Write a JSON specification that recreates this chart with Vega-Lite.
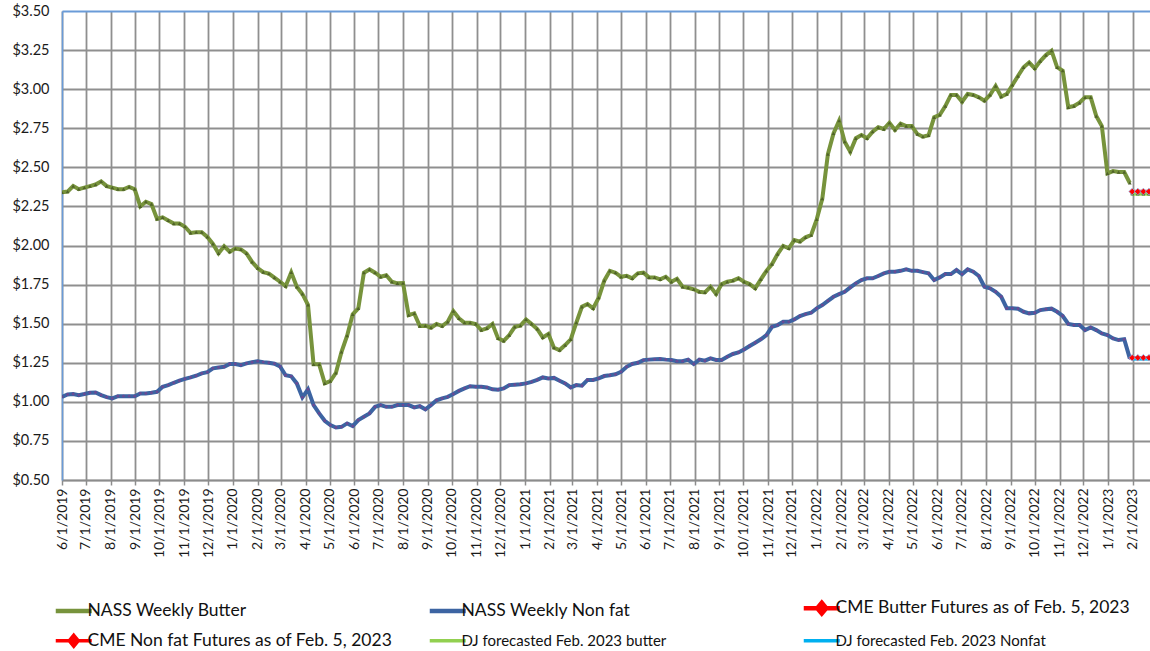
{
"$schema": "https://vega.github.io/schema/vega-lite/v6.json",
"width": 1088, "height": 469,
"autosize": {"type": "none"},
"padding": {"left": 62, "top": 11, "right": 0, "bottom": 171},
"background": "white",
"config": {"view": {"stroke": null}, "font": "Lato"},
"datasets": {
"nass": [
{"d":"2019-06-01","b":2.34,"n":1.032},{"d":"2019-06-08","b":2.345,"n":1.047},{"d":"2019-06-15","b":2.38,"n":1.05},{"d":"2019-06-22","b":2.36,"n":1.043},{"d":"2019-06-29","b":2.37,"n":1.05},
{"d":"2019-07-06","b":2.38,"n":1.058},{"d":"2019-07-13","b":2.39,"n":1.06},{"d":"2019-07-20","b":2.41,"n":1.043},{"d":"2019-07-27","b":2.38,"n":1.03},
{"d":"2019-08-03","b":2.37,"n":1.022},{"d":"2019-08-10","b":2.36,"n":1.036},{"d":"2019-08-17","b":2.36,"n":1.036},{"d":"2019-08-24","b":2.375,"n":1.036},{"d":"2019-08-31","b":2.36,"n":1.036},
{"d":"2019-09-07","b":2.25,"n":1.054},{"d":"2019-09-14","b":2.28,"n":1.054},{"d":"2019-09-21","b":2.265,"n":1.058},{"d":"2019-09-28","b":2.17,"n":1.064},
{"d":"2019-10-05","b":2.18,"n":1.096},{"d":"2019-10-12","b":2.16,"n":1.107},{"d":"2019-10-19","b":2.14,"n":1.122},{"d":"2019-10-26","b":2.14,"n":1.135},
{"d":"2019-11-02","b":2.12,"n":1.147},{"d":"2019-11-09","b":2.08,"n":1.156},{"d":"2019-11-16","b":2.085,"n":1.167},{"d":"2019-11-23","b":2.085,"n":1.182},{"d":"2019-11-30","b":2.055,"n":1.19},
{"d":"2019-12-07","b":2.01,"n":1.214},{"d":"2019-12-14","b":1.95,"n":1.22},{"d":"2019-12-21","b":1.995,"n":1.224},{"d":"2019-12-28","b":1.96,"n":1.242},
{"d":"2020-01-04","b":1.98,"n":1.242},{"d":"2020-01-11","b":1.975,"n":1.235},{"d":"2020-01-18","b":1.95,"n":1.246},{"d":"2020-01-25","b":1.895,"n":1.253},
{"d":"2020-02-01","b":1.855,"n":1.26},{"d":"2020-02-08","b":1.83,"n":1.254},{"d":"2020-02-15","b":1.82,"n":1.25},{"d":"2020-02-22","b":1.795,"n":1.244},{"d":"2020-02-29","b":1.768,"n":1.226},
{"d":"2020-03-07","b":1.74,"n":1.17},{"d":"2020-03-14","b":1.828,"n":1.163},{"d":"2020-03-21","b":1.736,"n":1.118},{"d":"2020-03-28","b":1.69,"n":1.029},
{"d":"2020-04-04","b":1.62,"n":1.08},{"d":"2020-04-11","b":1.24,"n":0.979},{"d":"2020-04-18","b":1.24,"n":0.926},{"d":"2020-04-25","b":1.118,"n":0.879},
{"d":"2020-05-02","b":1.133,"n":0.851},{"d":"2020-05-09","b":1.186,"n":0.836},{"d":"2020-05-16","b":1.32,"n":0.84},{"d":"2020-05-23","b":1.423,"n":0.862},{"d":"2020-05-30","b":1.56,"n":0.845},
{"d":"2020-06-06","b":1.598,"n":0.883},{"d":"2020-06-13","b":1.826,"n":0.904},{"d":"2020-06-20","b":1.847,"n":0.926},{"d":"2020-06-27","b":1.826,"n":0.968},
{"d":"2020-07-04","b":1.80,"n":0.979},{"d":"2020-07-11","b":1.81,"n":0.968},{"d":"2020-07-18","b":1.768,"n":0.968},{"d":"2020-07-25","b":1.758,"n":0.979},
{"d":"2020-08-01","b":1.76,"n":0.979},{"d":"2020-08-08","b":1.555,"n":0.979},{"d":"2020-08-15","b":1.566,"n":0.964},{"d":"2020-08-22","b":1.485,"n":0.972},{"d":"2020-08-29","b":1.487,"n":0.952},
{"d":"2020-09-05","b":1.474,"n":0.979},{"d":"2020-09-12","b":1.498,"n":1.01},{"d":"2020-09-19","b":1.485,"n":1.022},{"d":"2020-09-26","b":1.512,"n":1.032},
{"d":"2020-10-03","b":1.58,"n":1.05},{"d":"2020-10-10","b":1.534,"n":1.07},{"d":"2020-10-17","b":1.506,"n":1.086},{"d":"2020-10-24","b":1.506,"n":1.10},{"d":"2020-10-31","b":1.498,"n":1.096},
{"d":"2020-11-07","b":1.459,"n":1.096},{"d":"2020-11-14","b":1.47,"n":1.092},{"d":"2020-11-21","b":1.498,"n":1.08},{"d":"2020-11-28","b":1.406,"n":1.078},
{"d":"2020-12-05","b":1.39,"n":1.086},{"d":"2020-12-12","b":1.427,"n":1.107},{"d":"2020-12-19","b":1.48,"n":1.11},{"d":"2020-12-26","b":1.487,"n":1.113},
{"d":"2021-01-02","b":1.527,"n":1.118},{"d":"2021-01-09","b":1.498,"n":1.128},{"d":"2021-01-16","b":1.466,"n":1.14},{"d":"2021-01-23","b":1.412,"n":1.156},{"d":"2021-01-30","b":1.434,"n":1.15},
{"d":"2021-02-06","b":1.346,"n":1.153},{"d":"2021-02-13","b":1.331,"n":1.135},{"d":"2021-02-20","b":1.363,"n":1.118},{"d":"2021-02-27","b":1.40,"n":1.092},
{"d":"2021-03-06","b":1.506,"n":1.107},{"d":"2021-03-13","b":1.608,"n":1.103},{"d":"2021-03-20","b":1.625,"n":1.14},{"d":"2021-03-27","b":1.598,"n":1.14},
{"d":"2021-04-03","b":1.666,"n":1.15},{"d":"2021-04-10","b":1.775,"n":1.165},{"d":"2021-04-17","b":1.838,"n":1.17},{"d":"2021-04-24","b":1.826,"n":1.176},
{"d":"2021-05-01","b":1.80,"n":1.192},{"d":"2021-05-08","b":1.806,"n":1.224},{"d":"2021-05-15","b":1.79,"n":1.242},{"d":"2021-05-22","b":1.822,"n":1.25},{"d":"2021-05-29","b":1.826,"n":1.267},
{"d":"2021-06-05","b":1.796,"n":1.27},{"d":"2021-06-12","b":1.796,"n":1.272},{"d":"2021-06-19","b":1.783,"n":1.274},{"d":"2021-06-26","b":1.80,"n":1.27},
{"d":"2021-07-03","b":1.768,"n":1.267},{"d":"2021-07-10","b":1.787,"n":1.26},{"d":"2021-07-17","b":1.736,"n":1.26},{"d":"2021-07-24","b":1.73,"n":1.27},{"d":"2021-07-31","b":1.72,"n":1.242},
{"d":"2021-08-07","b":1.704,"n":1.27},{"d":"2021-08-14","b":1.70,"n":1.263},{"d":"2021-08-21","b":1.736,"n":1.278},{"d":"2021-08-28","b":1.69,"n":1.268},
{"d":"2021-09-04","b":1.753,"n":1.267},{"d":"2021-09-11","b":1.768,"n":1.288},{"d":"2021-09-18","b":1.775,"n":1.306},{"d":"2021-09-25","b":1.79,"n":1.316},
{"d":"2021-10-02","b":1.768,"n":1.335},{"d":"2021-10-09","b":1.753,"n":1.357},{"d":"2021-10-16","b":1.726,"n":1.378},{"d":"2021-10-23","b":1.783,"n":1.40},{"d":"2021-10-30","b":1.838,"n":1.427},
{"d":"2021-11-06","b":1.881,"n":1.48},{"d":"2021-11-13","b":1.945,"n":1.491},{"d":"2021-11-20","b":1.997,"n":1.512},{"d":"2021-11-27","b":1.982,"n":1.512},
{"d":"2021-12-04","b":2.035,"n":1.527},{"d":"2021-12-11","b":2.025,"n":1.549},{"d":"2021-12-18","b":2.052,"n":1.561},{"d":"2021-12-25","b":2.067,"n":1.57},
{"d":"2022-01-01","b":2.167,"n":1.598},{"d":"2022-01-08","b":2.30,"n":1.619},{"d":"2022-01-15","b":2.585,"n":1.646},{"d":"2022-01-22","b":2.717,"n":1.672},{"d":"2022-01-29","b":2.798,"n":1.689},
{"d":"2022-02-05","b":2.664,"n":1.704},{"d":"2022-02-12","b":2.60,"n":1.732},{"d":"2022-02-19","b":2.686,"n":1.758},{"d":"2022-02-26","b":2.707,"n":1.779},
{"d":"2022-03-05","b":2.686,"n":1.79},{"d":"2022-03-12","b":2.728,"n":1.79},{"d":"2022-03-19","b":2.756,"n":1.805},{"d":"2022-03-26","b":2.745,"n":1.822},
{"d":"2022-04-02","b":2.785,"n":1.832},{"d":"2022-04-09","b":2.739,"n":1.832},{"d":"2022-04-16","b":2.78,"n":1.838},{"d":"2022-04-23","b":2.764,"n":1.847},{"d":"2022-04-30","b":2.764,"n":1.838},
{"d":"2022-05-07","b":2.713,"n":1.838},{"d":"2022-05-14","b":2.696,"n":1.83},{"d":"2022-05-21","b":2.705,"n":1.822},{"d":"2022-05-28","b":2.82,"n":1.779},
{"d":"2022-06-04","b":2.835,"n":1.796},{"d":"2022-06-11","b":2.892,"n":1.817},{"d":"2022-06-18","b":2.963,"n":1.817},{"d":"2022-06-25","b":2.963,"n":1.843},
{"d":"2022-07-02","b":2.92,"n":1.817},{"d":"2022-07-09","b":2.969,"n":1.847},{"d":"2022-07-16","b":2.963,"n":1.832},{"d":"2022-07-23","b":2.948,"n":1.805},{"d":"2022-07-30","b":2.926,"n":1.736},
{"d":"2022-08-06","b":2.963,"n":1.726},{"d":"2022-08-13","b":3.02,"n":1.704},{"d":"2022-08-20","b":2.952,"n":1.672},{"d":"2022-08-27","b":2.969,"n":1.598},
{"d":"2022-09-03","b":3.027,"n":1.598},{"d":"2022-09-10","b":3.084,"n":1.596},{"d":"2022-09-17","b":3.14,"n":1.576},{"d":"2022-09-24","b":3.17,"n":1.566},
{"d":"2022-10-01","b":3.133,"n":1.57},{"d":"2022-10-08","b":3.18,"n":1.587},{"d":"2022-10-15","b":3.218,"n":1.592},{"d":"2022-10-22","b":3.246,"n":1.596},{"d":"2022-10-29","b":3.14,"n":1.576},
{"d":"2022-11-05","b":3.118,"n":1.549},{"d":"2022-11-12","b":2.884,"n":1.498},{"d":"2022-11-19","b":2.892,"n":1.491},{"d":"2022-11-26","b":2.913,"n":1.491},
{"d":"2022-12-03","b":2.948,"n":1.459},{"d":"2022-12-10","b":2.948,"n":1.476},{"d":"2022-12-17","b":2.828,"n":1.459},{"d":"2022-12-24","b":2.764,"n":1.438},{"d":"2022-12-31","b":2.461,"n":1.427},
{"d":"2023-01-07","b":2.476,"n":1.406},{"d":"2023-01-14","b":2.47,"n":1.395},{"d":"2023-01-21","b":2.47,"n":1.40},{"d":"2023-01-28","b":2.40,"n":1.278}
],
"fut": [
{"d":"2023-01-31","cb":2.345,"cn":1.282,"db":2.33,"dn":1.275},
{"d":"2023-02-07","cb":2.345,"cn":1.282,"db":2.33,"dn":1.275},
{"d":"2023-02-14","cb":2.345,"cn":1.282,"db":2.33,"dn":1.275},
{"d":"2023-02-21","cb":2.345,"cn":1.282,"db":2.33,"dn":1.275},
{"d":"2023-02-28","cb":2.345,"cn":1.282,"db":2.33,"dn":1.275}
]
},
"encoding": {
"x": {"field": "d", "type": "temporal",
  "scale": {"type": "utc", "domain": [{"year": 2019, "month": 6, "date": 1, "utc": true}, {"year": 2023, "month": 2, "date": 22, "hours": 7, "utc": true}]},
  "axis": {"title": null, "tickCount": {"interval": "month", "step": 1}, "labelExpr": "utcFormat(datum.value, '%-m/%-d/%Y')",
    "labelAngle": 270, "labelAlign": "right", "labelBaseline": "middle", "labelPadding": 3, "labelOverlap": false, "labelFlush": false, "labelBound": false,
    "labelFont": "Lato", "labelFontSize": 14, "labelColor": "#1a1a1a",
    "tickSize": 5, "tickColor": "#8c8c8c", "tickWidth": 1.5, "domainColor": "#8c8c8c", "domainWidth": 1.5,
    "grid": true, "gridColor": "#8f8f8f", "gridWidth": 1.8}},
"y": {"field": "v", "type": "quantitative",
  "scale": {"domain": [0.5, 3.5], "nice": false, "zero": false},
  "axis": {"title": null, "values": [0.5,0.75,1,1.25,1.5,1.75,2,2.25,2.5,2.75,3,3.25,3.5], "format": "$.2f",
    "ticks": false, "labelPadding": 13, "labelFont": "Lato", "labelFontSize": 14.5, "labelColor": "#1a1a1a",
    "domainColor": "#6a9bd8", "domainWidth": 1.5,
    "grid": true, "gridColor": {"condition": {"test": "datum.value === 3.5", "value": "#6a9bd8"}, "value": "#8f8f8f"}, "gridWidth": 1.8}}
},
"layer": [
{"data": {"name": "nass"}, "transform": [{"fold": ["b", "n"], "as": ["s", "v"]}],
 "mark": {"type": "line", "strokeWidth": 4, "clip": true},
 "encoding": {"color": {"field": "s", "type": "nominal",
   "scale": {"domain": ["b", "n", "cb", "cn", "db", "dn"], "range": ["#77933C", "#3C64A2", "#FF0000", "#FF0000", "#92D050", "#00B0F0"]},
   "legend": {"orient": "none", "legendX": 3, "legendY": 588, "direction": "horizontal", "columns": 3, "title": null, "gridAlign": "all",
     "columnPadding": 23, "rowPadding": 5, "labelOffset": 5, "labelLimit": 500,
     "labelFont": "Lato", "labelFontSize": 17.5, "labelColor": "#111111",
     "symbolType": "M-1,0H1", "symbolSize": 1296, "symbolStrokeWidth": 4,
     "labelExpr": "{'b':'NASS Weekly Butter','n':'NASS Weekly Non fat','cb':'CME Butter Futures as of Feb. 5, 2023','cn':'CME Non fat  Futures as of Feb. 5, 2023','db':'DJ forecasted Feb. 2023  butter','dn':'DJ forecasted Feb. 2023  Nonfat'}[datum.value]",
     "encode": {
       "symbols": {"update": {
         "shape": {"signal": "(datum.value === 'cb' || datum.value === 'cn') ? 'M-1,0H1M0,-0.3L0.25,0L0,0.3L-0.25,0Z' : 'M-1,0H1'"},
         "fill": {"signal": "(datum.value === 'cb' || datum.value === 'cn') ? '#FF0000' : 'transparent'"},
         "strokeWidth": {"signal": "(datum.value === 'b' || datum.value === 'n' || datum.value === 'cb') ? 4.5 : 3.5"}}},
       "labels": {"update": {"fontSize": {"signal": "(datum.value === 'db' || datum.value === 'dn') ? 15 : 17.5"}}}
     }}}}},
{"data": {"name": "nass"}, "transform": [{"fold": ["b"], "as": ["s", "v"]}],
 "mark": {"type": "point", "shape": "triangle-up", "filled": true, "color": "#4F6228", "size": 14, "opacity": 1, "clip": true}},
{"data": {"name": "nass"}, "transform": [{"fold": ["n"], "as": ["s", "v"]}],
 "mark": {"type": "point", "shape": "circle", "filled": true, "color": "#6A4A94", "size": 8, "opacity": 1, "clip": true}},
{"data": {"name": "fut"}, "transform": [{"fold": ["cb", "cn", "db", "dn"], "as": ["s", "v"]}],
 "mark": {"type": "line", "strokeWidth": 3.5, "clip": true},
 "encoding": {"color": {"field": "s", "type": "nominal"}}},
{"data": {"name": "fut"}, "transform": [{"fold": ["db"], "as": ["s", "v"]}],
 "mark": {"type": "point", "shape": "square", "filled": true, "color": "#4F6228", "size": 10, "opacity": 1, "clip": true}},
{"data": {"name": "fut"}, "transform": [{"fold": ["dn"], "as": ["s", "v"]}],
 "mark": {"type": "point", "shape": "triangle-up", "filled": true, "color": "#7f7f7f", "size": 10, "opacity": 1, "clip": true}},
{"data": {"name": "fut"}, "transform": [{"fold": ["cb", "cn"], "as": ["s", "v"]}],
 "mark": {"type": "point", "shape": "diamond", "filled": true, "fill": "#FF0000", "stroke": "#8EB4E3", "strokeWidth": 0.8, "size": 45, "opacity": 1, "clip": true}}
]
}
